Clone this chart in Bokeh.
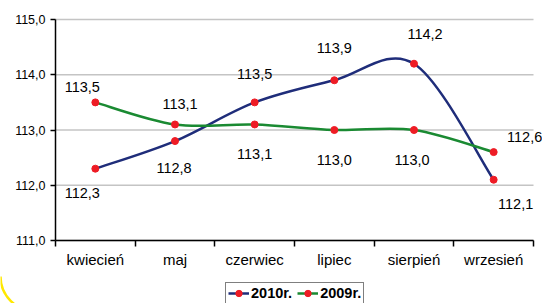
from bokeh.plotting import figure
from bokeh.models import ColumnDataSource, FixedTicker, Legend, LegendItem
from bokeh.embed import file_html
from bokeh.resources import INLINE
from bokeh.core.properties import value
import math

# ---- data ----
months = ["kwiecień", "maj", "czerwiec", "lipiec", "sierpień", "wrzesień"]
y2010 = [112.3, 112.8, 113.5, 113.9, 114.2, 112.1]
y2009 = [113.5, 113.1, 113.1, 113.0, 113.0, 112.6]
y_ticks = [111.0, 112.0, 113.0, 114.0, 115.0]
series_names = ["2010r.", "2009r."]

# ---- label offsets in screen px (style only) ----
off2010_x = [-13, -1, 0, 0, 11, 22]
off2010_y = [24, 27, -28, -32, -30, 24]
off2009_x = [-13, 5, 0, 0, -2, 31]
off2009_y = [-15, -20, 30, 30, 30, -15]

FONT = "Liberation Sans"
NAVY = "#1f2d7a"
GREEN = "#1a8a32"
RED = "#ee1c25"
GRID = "#c4c4c4"
YELLOW = "#ffe800"

xs = [i + 0.5 for i in range(len(months))]
bounds = list(range(len(months) + 1))

# layout (pixels): the frame covers the whole canvas; the value axis is 221 px
# tall starting 19 px from the top, the category axis is 478 px wide starting at 55 px
W, H, TOP, LEFT = 542, 303, 19, 55
axis_px_y = 221
axis_px_x = 478
px_x = axis_px_x / len(months)
px_y = axis_px_y / (y_ticks[-1] - y_ticks[0])
x_lo = -LEFT / px_x
x_hi = (W - LEFT) / px_x
y_lo = y_ticks[0] - (H - TOP - axis_px_y) / px_y
y_hi = y_ticks[-1] + TOP / px_y

# decorative rounded corner of the slide frame (screen px)
corner_r = 34.5
corner_cx = x_lo + corner_r / px_x
corner_cy = y_lo + 27 / px_y


def fmt(v):
    return f"{v:.1f}".replace(".", ",")


def bezier_source(x, y):
    n = len(x)
    d = dict(x0=[], y0=[], x1=[], y1=[], cx0=[], cy0=[], cx1=[], cy1=[])
    for i in range(n - 1):
        a = max(i - 1, 0)
        b = min(i + 2, n - 1)
        d["x0"].append(x[i]); d["y0"].append(y[i])
        d["x1"].append(x[i + 1]); d["y1"].append(y[i + 1])
        d["cx0"].append(x[i] + (x[i + 1] - x[a]) / 6)
        d["cy0"].append(y[i] + (y[i + 1] - y[a]) / 6)
        d["cx1"].append(x[i + 1] - (x[b] - x[i]) / 6)
        d["cy1"].append(y[i + 1] - (y[b] - y[i]) / 6)
    return ColumnDataSource(d)


p = figure(width=W, height=H, x_range=(x_lo, x_hi), y_range=(y_lo, y_hi),
           output_backend="svg", toolbar_location=None,
           min_border_left=0, min_border_right=0, min_border_top=0, min_border_bottom=0)
p.outline_line_color = None
p.background_fill_color = "white"
p.border_fill_color = "white"

p.arc(x=[corner_cx], y=[corner_cy], radius=corner_r, radius_units="screen",
      start_angle=math.pi, end_angle=1.5 * math.pi, direction="anticlock",
      line_color=YELLOW, line_width=2.5)

# horizontal gridlines across the category span only
p.xgrid.visible = False
p.ygrid.visible = False
p.segment(x0=0, x1=len(months), y0=y_ticks, y1=y_ticks, line_color=GRID, line_width=1.5)

# y axis, drawn at the left end of the categories
p.yaxis.fixed_location = 0
p.yaxis.ticker = FixedTicker(ticks=y_ticks)
p.yaxis.bounds = (y_ticks[0], y_ticks[-1])
p.yaxis.major_label_overrides = {t: fmt(t) for t in y_ticks}
p.yaxis.axis_line_color = "black"
p.yaxis.axis_line_width = 1.5
p.yaxis.major_tick_line_color = "black"
p.yaxis.major_tick_line_width = 1.5
p.yaxis.major_tick_out = 5
p.yaxis.major_tick_in = 0
p.yaxis.minor_tick_line_color = None
p.yaxis.major_label_standoff = 5
p.yaxis.major_label_text_font = FONT
p.yaxis.major_label_text_font_size = "12.5px"
p.yaxis.major_label_text_color = "black"

# x axis, drawn at the bottom of the value range
p.xaxis.fixed_location = y_ticks[0]
p.xaxis.bounds = (0, len(months))
p.xaxis.ticker = FixedTicker(ticks=xs, minor_ticks=bounds)
p.xaxis.major_label_overrides = {x: m for x, m in zip(xs, months)}
p.xaxis.axis_line_color = "black"
p.xaxis.axis_line_width = 1.5
p.xaxis.major_tick_line_color = None
p.xaxis.major_tick_out = 0
p.xaxis.major_tick_in = 0
p.xaxis.minor_tick_line_color = "black"
p.xaxis.minor_tick_line_width = 1.5
p.xaxis.minor_tick_out = 6
p.xaxis.minor_tick_in = 0
p.xaxis.major_label_standoff = 4
p.xaxis.major_label_text_font = FONT
p.xaxis.major_label_text_font_size = "15px"
p.xaxis.major_label_text_color = "black"

legend_items = []
for name, ys, color, ox, oy in [(series_names[0], y2010, NAVY, off2010_x, off2010_y),
                                (series_names[1], y2009, GREEN, off2009_x, off2009_y)]:
    p.bezier(x0="x0", y0="y0", x1="x1", y1="y1", cx0="cx0", cy0="cy0", cx1="cx1", cy1="cy1",
             source=bezier_source(xs, ys), line_color=color, line_width=2.5)
    proxy = p.line(x=[float("nan")], y=[float("nan")], line_color=color, line_width=2.5)
    src = ColumnDataSource(dict(x=xs, y=ys, lab=[fmt(v) for v in ys], ox=ox, oy=oy))
    sc = p.scatter(x="x", y="y", source=src, size=7, fill_color=RED, line_color=RED)
    p.text(x="x", y="y", text="lab", source=src, x_offset="ox", y_offset="oy",
           text_align="center", text_baseline="middle", text_font=value(FONT),
           text_font_size="14.5px", text_color="black")
    legend_items.append(LegendItem(label=name, renderers=[proxy, sc]))

legend = Legend(items=legend_items, orientation="horizontal", location=(225, -1),
                label_text_font=FONT, label_text_font_size="14.5px", label_text_font_style="bold",
                label_text_color="black", label_height=16, glyph_height=16, glyph_width=21,
                label_standoff=2, spacing=5, padding=2, margin=0,
                border_line_color="black", border_line_width=1, background_fill_color="white",
                background_fill_alpha=1)
p.add_layout(legend, "center")

open("out.html", "w").write(file_html(p, INLINE))
